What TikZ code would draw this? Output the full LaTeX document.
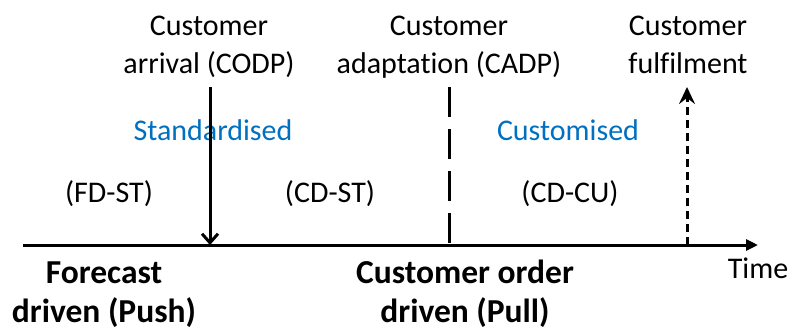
\documentclass[tikz,border=0pt]{standalone}
\usepackage{fontspec}
\setmainfont{Carlito}[Ligatures=NoCommon]
\usetikzlibrary{arrows.meta}
\definecolor{stdblue}{HTML}{0070C0}
\begin{document}
\begin{tikzpicture}[x=1bp,y=-1bp,
  lbl/.style={inner sep=0pt,anchor=base,align=center,font=\fontsize{30bp}{38bp}\selectfont},
  bold/.style={inner sep=0pt,anchor=base,align=center,font=\fontsize{33.5bp}{39bp}\selectfont\bfseries},
  bluelbl/.style={lbl,text=stdblue},
  axisline/.style={line width=3bp,-{Triangle[length=12bp,width=11bp]}},
  codpline/.style={line width=3bp,-{Straight Barb[length=9bp,width=16bp,line width=3bp]}},
  cadpline/.style={line width=3bp,dash pattern=on 30bp off 12bp},
  fulline/.style={line width=3bp,dash pattern=on 8bp off 5bp,-{Stealth[length=17bp,width=16bp,inset=6bp]}}
]
\useasboundingbox (0,0) rectangle (792,331);
% coordinates
\coordinate (axL) at (23,245);
\coordinate (axR) at (758,245);
\coordinate (codpT) at (210,87);
\coordinate (codpB) at (210,245);
\coordinate (cadpT) at (449,87);
\coordinate (cadpB) at (449,245);
\coordinate (fulB) at (687,245);
\coordinate (fulT) at (687,87);
% labels (base anchor = baseline of last line)
\node[lbl] (codp) at (209,73) {Customer\\arrival (CODP)};
\node[lbl] (cadp) at (449,73) {Customer\\adaptation (CADP)};
\node[lbl] (ful) at (688,73) {Customer\\fulfilment};
\node[bluelbl] (std) at (213,140) {Standardised};
\node[bluelbl] (cus) at (568,140) {Customised};
\node[lbl] (fdst) at (109,202) {(FD-ST)};
\node[lbl] (cdst) at (330,202) {(CD-ST)};
\node[lbl] (cdcu) at (570,202) {(CD-CU)};
\node[bold] (push) at (104,322) {Forecast\\driven (Push)};
\node[bold] (pull) at (465,322) {Customer order\\driven (Pull)};
\node[lbl] (time) at (758,278) {Time};
% lines
\draw[axisline] (axL) -- (axR);
\draw[codpline] (codpT) -- (codpB);
\draw[cadpline] (cadpT) -- (cadpB);
\draw[fulline] (fulB) -- (fulT);
\end{tikzpicture}
\end{document}
